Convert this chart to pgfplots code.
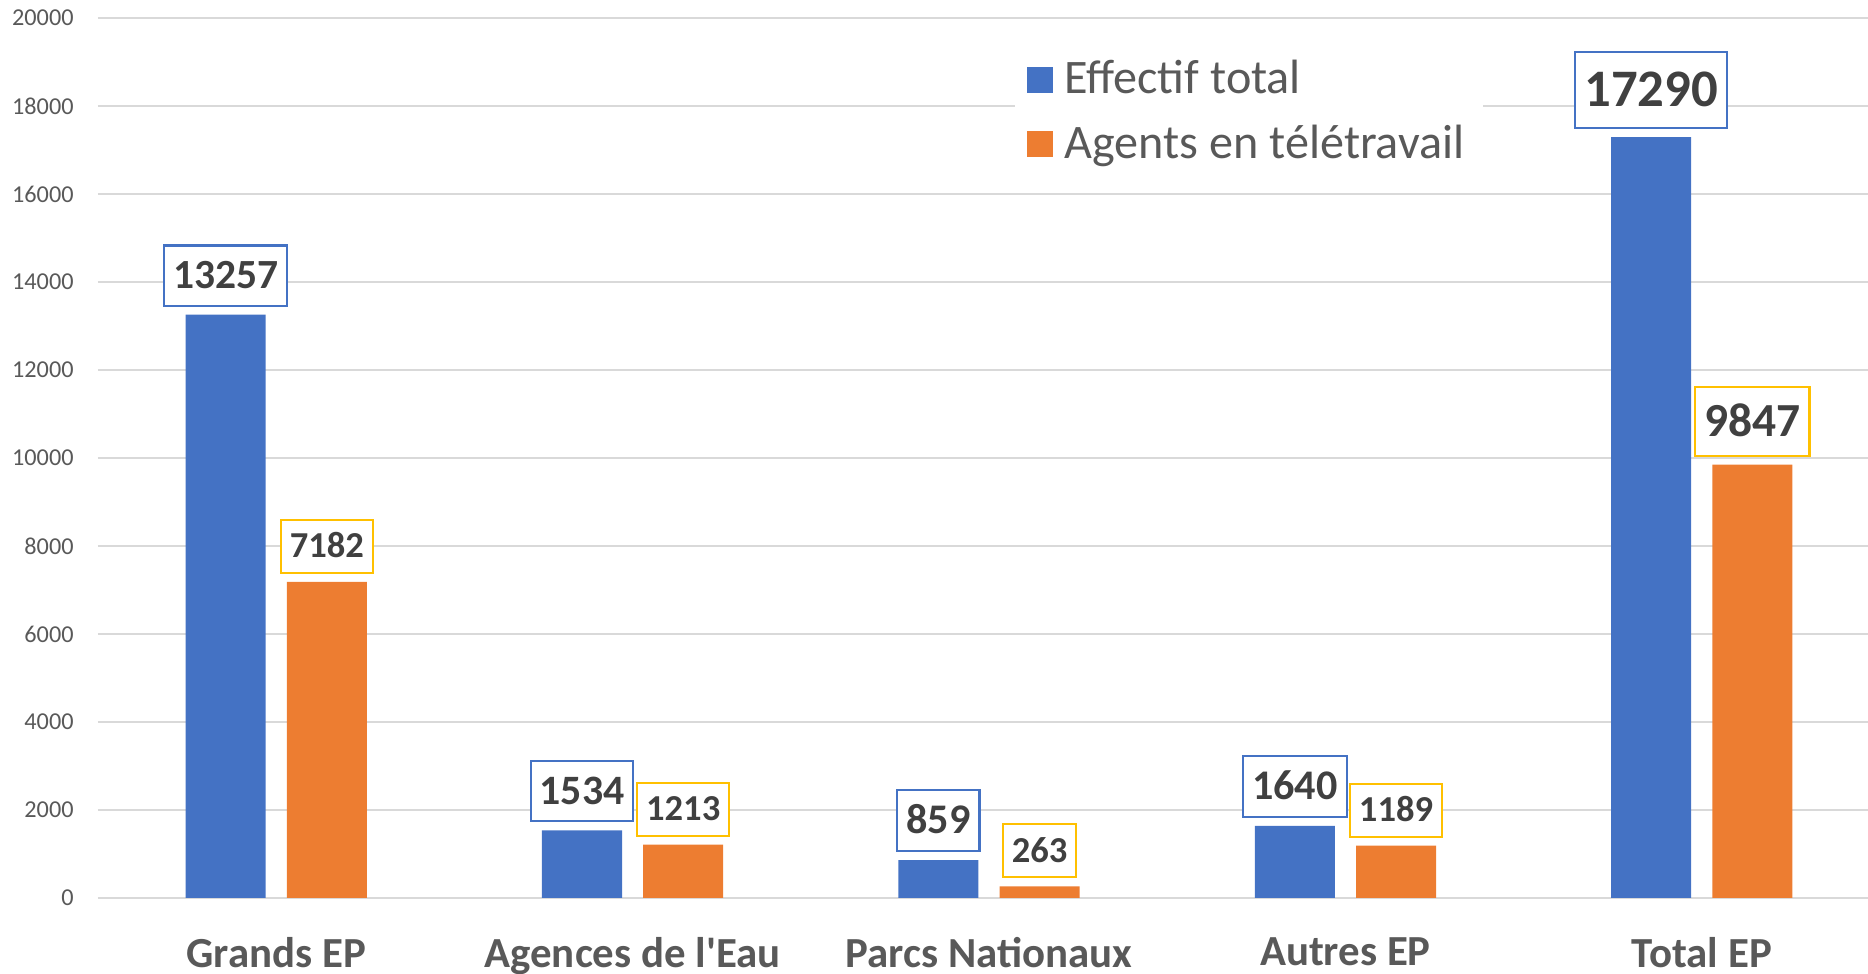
\documentclass[border=0pt]{standalone}
\usepackage{pgfplots}
\pgfplotsset{compat=1.18}
\usepackage{fontspec}
\setmainfont{Carlito}[Ligatures=TeXOff]
\definecolor{cblue}{HTML}{4472C4}
\definecolor{corange}{HTML}{ED7D31}
\definecolor{cgold}{HTML}{FFC000}
\definecolor{cgrid}{HTML}{D9D9D9}
\definecolor{ctext}{HTML}{595959}
\definecolor{clabel}{HTML}{404040}
\DeclareRobustCommand{\sz}[1]{\fontsize{#1pt}{#1pt}\selectfont\rule[-0.41em]{0pt}{1.45em}}
\begin{document}
\begin{tikzpicture}
\begin{axis}[
  name=ax,
  scale only axis,
  width=178.2mm, height=88mm,
  xmin=-0.5, xmax=4.5,
  ymin=0, ymax=20000,
  ytick={0,2000,...,20000},
  scaled y ticks=false,
  xtick={0,1,2,3,4},
  xticklabels={Grands EP, Agences de l'Eau, Parcs Nationaux, Autres EP, Total EP},
  axis line style={draw=none},
  major tick length=0pt,
  ymajorgrids,
  grid style={cgrid, line width=0.7pt},
  /pgf/number format/assume math mode=true,
  /pgf/number format/1000 sep={},
  yticklabel style={font=\fontsize{6.9pt}{7pt}\selectfont, text=ctext, xshift=-1.2mm},
  xticklabel style={font=\bfseries\fontsize{12.2pt}{13pt}\selectfont, text=ctext, yshift=-2.7mm},
  legend style={at={(0.514,0.972)}, anchor=north west, draw=none, fill=white,
    font=\fontsize{13.7pt}{15pt}\selectfont, text=ctext, row sep=1.2mm,
    inner xsep=1.2mm, inner ysep=1mm},
  legend cell align=left,
  ybar, bar width=0.2245,
  nodes near coords={\pgfplotspointmeta},
  point meta=explicit symbolic,
  every node near coord/.append style={fill=white, text=clabel, font=\bfseries,
    inner xsep=0.9mm, inner ysep=0pt, line width=0.6pt, anchor=south, yshift=0.8mm},
]
\addplot[fill=cblue, draw=none, bar shift=-0.142,
  legend image code/.code={\fill[cblue] (0mm,-1.3mm) rectangle (2.6mm,1.3mm);},
  every node near coord/.append style={draw=cblue}]
  coordinates {
  (0,13257) [\sz{11.8}13257]
  (1,1534) [\sz{11.9}1534]
  (2,859) [\sz{12}859]
  (3,1640) [\sz{12}1640]
  (4,17290) [\sz{15}17290]
};
\addlegendentry{\hspace{0.5mm}Effectif total}
\addplot[fill=corange, draw=none, bar shift=0.142,
  legend image code/.code={\fill[corange] (0mm,-1.3mm) rectangle (2.6mm,1.3mm);},
  every node near coord/.append style={draw=cgold}]
  coordinates {
  (0,7182) [\sz{10.4}7182]
  (1,1213) [\sz{10.4}1213]
  (2,263) [\sz{10.4}263]
  (3,1189) [\sz{10.4}1189]
  (4,9847) [\sz{13.5}9847]
};
\addlegendentry{\hspace{0.5mm}Agents en télétravail}
\end{axis}
\pgfresetboundingbox
\useasboundingbox ([xshift=-9.8mm,yshift=-7.6mm]ax.south west) rectangle ([xshift=-1.2mm,yshift=1.8mm]ax.north east);
\end{tikzpicture}
\end{document}
